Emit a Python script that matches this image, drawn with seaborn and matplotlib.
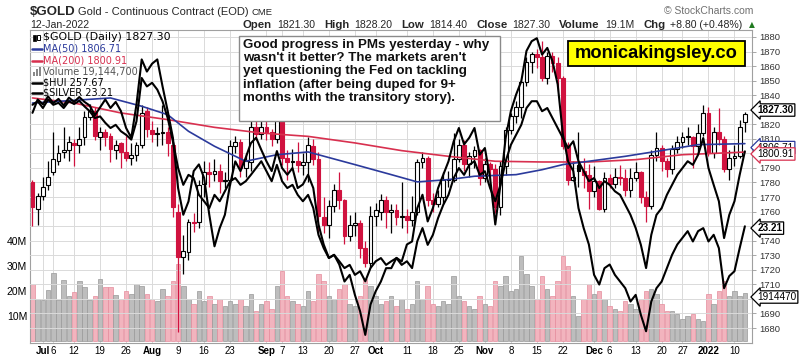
import numpy as np
import pandas as pd
import matplotlib
matplotlib.use("Agg")
import matplotlib.pyplot as plt
import seaborn as sns
from matplotlib.patches import Rectangle
from matplotlib.lines import Line2D

# ---- daily data: 29-Jun-2021 .. 12-Jan-2022 (138 sessions) ----
opens = [1780, 1762, 1771, 1778, 1787, 1795, 1801, 1802, 1807, 1806,
         1811, 1825, 1829, 1811, 1815, 1812, 1802, 1807, 1801, 1797,
         1799, 1806, 1829, 1816, 1813, 1814, 1815, 1806, 1760, 1729,
         1732, 1752, 1753, 1779, 1787, 1786, 1788, 1781, 1782, 1805,
         1808, 1790, 1794, 1818, 1813, 1818, 1815, 1810, 1832, 1797,
         1794, 1795, 1792, 1794, 1805, 1796, 1756, 1751, 1764, 1775,
         1768, 1743, 1751, 1752, 1735, 1725, 1757, 1760, 1768, 1760,
         1761, 1756, 1757, 1754, 1760, 1794, 1797, 1768, 1765, 1770,
         1782, 1782, 1796, 1806, 1793, 1798, 1802, 1783, 1793, 1789,
         1763, 1791, 1816, 1826, 1832, 1849, 1863, 1868, 1866, 1852,
         1867, 1862, 1852, 1805, 1782, 1792, 1788, 1785, 1774, 1781,
         1762, 1783, 1779, 1784, 1783, 1775, 1783, 1787, 1770, 1764,
         1799, 1804, 1795, 1789, 1803, 1808, 1812, 1811, 1805, 1814,
         1828, 1800, 1815, 1810, 1789, 1797, 1798, 1821.3]
highs = [1782, 1773, 1784, 1795, 1815, 1806, 1818, 1812, 1810, 1818,
         1829, 1834, 1832, 1818, 1817, 1814, 1809, 1808, 1812, 1807,
         1808, 1833, 1832, 1822, 1818, 1833, 1818, 1808, 1765, 1744,
         1755, 1759, 1782, 1795, 1794, 1796, 1793, 1787, 1809, 1812,
         1810, 1800, 1823, 1825, 1823, 1827, 1817, 1837, 1834, 1802,
         1803, 1808, 1800, 1811, 1810, 1801, 1770, 1768, 1779, 1787,
         1769, 1758, 1760, 1754, 1740, 1764, 1766, 1772, 1771, 1765,
         1765, 1780, 1762, 1771, 1796, 1801, 1798, 1773, 1775, 1787,
         1788, 1814, 1810, 1809, 1801, 1805, 1803, 1797, 1794, 1793,
         1795, 1818, 1828, 1836, 1850, 1866, 1870, 1872, 1877, 1870,
         1870, 1866, 1853, 1808, 1795, 1815, 1797, 1793, 1791, 1782,
         1787, 1786, 1790, 1792, 1789, 1790, 1794, 1788, 1774, 1802,
         1815, 1806, 1797, 1806, 1812, 1815, 1818, 1812, 1820, 1833,
         1832, 1818, 1831, 1812, 1802, 1806, 1823, 1828.2]
lows = [1750, 1751, 1768, 1775, 1785, 1792, 1797, 1795, 1791, 1800,
        1806, 1823, 1809, 1802, 1805, 1794, 1796, 1790, 1795, 1792,
        1795, 1804, 1811, 1808, 1805, 1806, 1798, 1756, 1677, 1717,
        1727, 1746, 1749, 1770, 1777, 1781, 1773, 1776, 1778, 1800,
        1784, 1784, 1788, 1809, 1810, 1809, 1805, 1807, 1792, 1782,
        1790, 1787, 1785, 1780, 1792, 1745, 1745, 1742, 1760, 1762,
        1738, 1740, 1743, 1728, 1722, 1721, 1750, 1754, 1749, 1745,
        1751, 1749, 1745, 1750, 1758, 1790, 1764, 1760, 1763, 1765,
        1777, 1780, 1794, 1788, 1784, 1790, 1778, 1780, 1782, 1759,
        1758, 1785, 1813, 1821, 1824, 1846, 1855, 1859, 1850, 1848,
        1856, 1843, 1803, 1778, 1781, 1777, 1776, 1762, 1770, 1761,
        1760, 1776, 1776, 1778, 1771, 1770, 1781, 1766, 1753, 1762,
        1795, 1788, 1784, 1786, 1800, 1804, 1806, 1790, 1800, 1812,
        1798, 1797, 1806, 1787, 1782, 1791, 1797, 1814.4]
closes = [1763, 1771, 1777, 1784, 1796, 1800, 1802, 1808, 1806, 1810,
          1825, 1829, 1812, 1815, 1811, 1803, 1806, 1801, 1797, 1799,
          1806, 1828, 1817, 1813, 1814, 1815, 1807, 1763, 1729, 1733,
          1753, 1752, 1778, 1787, 1786, 1788, 1781, 1781, 1805, 1808,
          1790, 1795, 1818, 1813, 1818, 1815, 1810, 1834, 1797, 1794,
          1795, 1792, 1794, 1806, 1796, 1757, 1751, 1764, 1775, 1768,
          1743, 1751, 1752, 1735, 1725, 1757, 1761, 1768, 1760, 1761,
          1756, 1757, 1754, 1760, 1794, 1797, 1768, 1765, 1770, 1782,
          1782, 1796, 1806, 1793, 1798, 1802, 1783, 1793, 1789, 1763,
          1791, 1816, 1826, 1832, 1849, 1863, 1868, 1866, 1852, 1867,
          1862, 1852, 1805, 1782, 1784, 1788, 1785, 1774, 1781, 1762,
          1783, 1779, 1784, 1783, 1775, 1783, 1787, 1770, 1764, 1799,
          1804, 1795, 1789, 1803, 1808, 1811, 1811.5, 1805, 1814, 1828,
          1800, 1815, 1810, 1789, 1797, 1798, 1818, 1827.3]
volume_m = [23, 17, 16.5, 20.4, 27.3, 16.5, 24.4, 18, 19.7, 24,
            21.7, 16.5, 18, 24.7, 21.5, 21.5, 18.5, 17, 20, 19,
            23, 22, 19, 17, 16, 21, 18, 24, 31, 22,
            17, 15, 20, 16, 18, 15, 17, 14, 16, 15,
            17, 14, 19, 12, 15, 16, 13, 22, 28, 18,
            16, 15, 14, 20, 16, 27, 24, 18, 17, 21,
            23, 15, 14, 18, 25, 22, 18, 15, 16, 18,
            14, 17, 13, 15, 24, 17, 22, 15, 14, 16,
            15, 26, 18, 16, 14, 13, 18, 15, 14, 24,
            22, 26, 20, 21, 34, 27, 22, 17, 26, 21,
            18, 24, 34, 30, 18, 10, 17, 23, 19, 20,
            17, 14, 13, 12, 16, 15, 13, 17, 20, 21,
            19, 15, 12, 12, 11, 9, 10, 11, 9, 8,
            19, 15, 20, 24, 18, 20, 18, 19.1447]
hui = [269.3, 270.2, 268.5, 270.6, 269.3, 269.8, 268.5, 270.2, 269.5, 270.3,
       268.9, 267.7, 266.0, 266.4, 264.8, 263.5, 264.3, 262.7, 261.8, 260.6,
       265.2, 276.0, 273.9, 274.8, 273.1, 270.2, 266.0, 260.2, 253.5, 249.3,
       251.8, 251.0, 246.8, 245.2, 243.5, 246.8, 245.2, 247.7, 250.2, 251.0,
       249.3, 250.2, 251.8, 253.5, 255.2, 252.7, 250.2, 254.3, 250.2, 248.5,
       249.3, 246.8, 245.2, 246.8, 243.5, 236.8, 233.5, 231.0, 231.8, 230.2,
       228.5, 229.3, 226.8, 227.7, 225.2, 228.5, 230.2, 231.0, 229.3, 230.2,
       231.0, 229.3, 230.2, 228.5, 235.2, 238.5, 234.3, 236.8, 241.0, 244.3,
       246.8, 251.0, 253.5, 251.8, 254.3, 255.2, 251.8, 252.7, 248.5, 245.2,
       249.3, 255.2, 259.3, 261.8, 264.3, 268.5, 270.2, 270.2, 267.7, 268.5,
       266.0, 263.5, 261.0, 258.5, 260.2, 255.2, 252.7, 250.2, 251.0, 248.5,
       250.2, 249.3, 247.7, 246.8, 244.3, 241.8, 238.5, 234.3, 228.5, 236.8,
       241.8, 243.5, 246.8, 249.3, 251.8, 253.5, 255.2, 254.3, 256.8, 261.0,
       253.5, 249.3, 245.2, 236.0, 241.8, 245.2, 251.8, 257.67]
silver = [25.08, 25.30, 25.22, 25.35, 25.24, 25.31, 25.20, 25.33, 25.26, 25.34,
          25.26, 25.20, 25.04, 25.17, 25.30, 25.16, 25.26, 25.11, 24.83, 24.67,
          25.22, 25.96, 25.76, 25.89, 25.96, 25.52, 25.11, 24.67, 23.84, 23.40,
          23.62, 24.12, 24.23, 24.01, 23.40, 22.88, 23.18, 23.40, 23.90, 24.28,
          24.12, 24.34, 24.58, 24.67, 24.47, 24.28, 24.12, 24.45, 24.17, 24.06,
          24.17, 23.84, 23.90, 24.06, 23.84, 23.24, 22.91, 22.69, 22.74, 22.58,
          22.30, 22.41, 22.08, 21.81, 21.42, 21.92, 22.14, 22.30, 22.52, 22.52,
          22.69, 22.63, 22.91, 22.96, 23.51, 23.73, 23.29, 23.51, 23.84, 24.06,
          24.28, 24.61, 24.83, 24.56, 24.67, 24.83, 24.39, 24.50, 24.01, 23.24,
          23.90, 24.67, 25.11, 25.38, 25.60, 26.10, 26.26, 26.31, 26.04, 26.15,
          25.93, 25.55, 24.72, 24.28, 24.12, 23.51, 23.18, 22.91, 22.41, 22.25,
          22.52, 22.58, 22.41, 22.30, 22.19, 21.97, 22.08, 21.75, 21.48, 21.97,
          22.19, 22.30, 22.52, 22.74, 22.91, 23.02, 23.13, 22.96, 23.13, 23.18,
          22.96, 23.07, 22.85, 22.19, 22.39, 22.47, 22.85, 23.21]

ma50_days = [0, 15, 21, 26, 30, 35, 41, 47, 53, 62, 69, 74, 80, 85, 93, 98, 102, 107, 114, 120, 128, 137]
ma50_vals = [1834.6, 1838.1, 1832.4, 1826.6, 1815.2, 1804.9, 1794.6, 1799.1, 1801.0, 1792.3, 1785.4,
             1780.4, 1782.0, 1784.3, 1785.4, 1788.8, 1792.3, 1794.6, 1798.0, 1801.4, 1806.0, 1806.71]
ma200_days = [0, 8, 17, 26, 35, 44, 53, 62, 71, 80, 89, 98, 107, 116, 125, 137]
ma200_vals = [1838.1, 1834.6, 1827.8, 1823.2, 1817.9, 1814.0, 1811.7, 1807.2, 1801.9, 1798.0,
              1794.6, 1794.1, 1794.1, 1795.7, 1799.1, 1800.91]

tick_days = [2, 4, 8, 13, 18, 23, 28, 33, 38, 45, 48, 52, 57, 62, 66, 72, 77, 82, 87, 92, 97, 102,
             108, 111, 116, 121, 125, 130, 135]
tick_labels = ["Jul", "6", "12", "19", "26", "Aug", "9", "16", "23", "Sep", "7", "13", "20", "27",
               "Oct", "11", "18", "25", "Nov", "8", "15", "22", "Dec", "6", "13", "20", "27", "2022", "10"]
month_labels = {"Jul", "Aug", "Sep", "Oct", "Nov", "Dec", "2022"}
price_ticks = list(range(1680, 1881, 10))
hidden_price_labels = {1800, 1750, 1700}   # sit under the value tags on the right

quote = [("Open", "1821.30"), ("High", "1828.20"), ("Low", "1814.40"), ("Close", "1827.30"),
         ("Volume", "19.1M"), ("Chg", "+8.80 (+0.48%)")]
note = ("Good progress in PMs yesterday - why\nwasn't it better? The markets aren't\n"
        "yet questioning the Fed on tackling\ninflation (after being duped for 9+\n"
        "months with the transitory story).")

# ---- styling ----
RED = "#d0123f"
MA50_C = "#2b3a9c"
MA200_C = "#d8304f"
PINK, PINK_E = "#f2b4be", "#e58c9c"
GRAY, GRAY_E = "#bdbdbd", "#999999"
PRICE_LIM = (1669.7, 1884.8)
VOL_LIM = (-0.8, 124.4)
HUI_AT, HUI_PER = (257.67, 1801.4), 2.75       # overlay scale: price units per HUI point
SILVER_AT, SILVER_PER = (23.21, 1749.9), 41.7  # price units per silver dollar

sns.set_theme(style="white")
plt.rcParams["font.family"] = ["Liberation Sans", "DejaVu Sans"]

W, H = 803, 360
fig = plt.figure(figsize=(W / 100, H / 100), dpi=100)
fig.patch.set_facecolor("white")


def fx(x):
    return x / W


def fy(y):
    return 1 - y / H


def ftext(x, y, s, **kw):
    return fig.text(fx(x), fy(y), s, **kw)


ax_v = fig.add_axes([fx(30), fy(343), fx(752) - fx(30), fy(30) - fy(343)])
ax = ax_v.twinx()
ax_h = ax_v.twinx()
ax_s = ax_v.twinx()

df = pd.DataFrame(dict(day=np.arange(len(closes)), o=opens, h=highs, l=lows, c=closes, vol=volume_m))
df["prev"] = df["c"].shift(1).fillna(df["o"])
down = df["c"] < df["prev"]
df["edge"] = np.where(down, RED, "black")
df["fill"] = np.where(df["c"] > df["o"], "white", df["edge"])

# volume
ax_v.bar(df["day"], df["vol"], width=0.85, color=np.where(down, PINK, GRAY),
         edgecolor=np.where(down, PINK_E, GRAY_E), linewidth=0.5, zorder=2)
ax_v.set_xlim(-0.48, 138.37)
ax_v.set_ylim(*VOL_LIM)
ax_v.set_yticks([10, 20, 30, 40])
ax_v.set_yticklabels(["10M", "20M", "30M", "40M"])
ax_v.set_xticks(tick_days)
ax_v.set_xticklabels(tick_labels)
for t in ax_v.get_xticklabels():
    if t.get_text() in month_labels:
        t.set_fontweight("bold")
        t.set_fontsize(7.6)
ax_v.tick_params(axis="x", length=0, pad=2.5, labelsize=7, labelcolor="black")
ax_v.tick_params(axis="y", length=0, pad=2, labelsize=7.5, labelcolor="black")
ax_v.grid(axis="x", color="#dadada", lw=0.7)
ax_v.set_axisbelow(True)
ax_v.set_facecolor("white")
for sp in ax_v.spines.values():
    sp.set_color("#a0a0a0")
    sp.set_linewidth(0.8)

# price candles
ax.set_ylim(*PRICE_LIM)
ax.set_yticks(price_ticks)
ax.set_yticklabels(["" if p in hidden_price_labels else str(p) for p in price_ticks])
ax.tick_params(axis="y", right=True, labelright=True, length=3, width=0.6, color="#999999",
               pad=2, labelsize=6.8, labelcolor="#333333")
ax.grid(axis="y", color="#dadada", lw=0.7)
ax.set_axisbelow(True)
for sp in ax.spines.values():
    sp.set_visible(False)
ax.vlines(df["day"], df["l"], df["h"], colors=df["edge"], lw=0.9, zorder=3)
body_lo = np.minimum(df["o"], df["c"])
body_h = np.maximum((df["c"] - df["o"]).abs(), 0.7)
ax.bar(df["day"], body_h, bottom=body_lo, width=0.72, color=df["fill"], edgecolor=df["edge"],
       linewidth=0.8, zorder=4)

sns.lineplot(x=ma200_days, y=ma200_vals, ax=ax, color=MA200_C, lw=1.2, zorder=5)
sns.lineplot(x=ma50_days, y=ma50_vals, ax=ax, color=MA50_C, lw=1.2, zorder=5)

# overlays on their own scales
ax_h.set_ylim([HUI_AT[0] + (p - HUI_AT[1]) / HUI_PER for p in PRICE_LIM])
ax_s.set_ylim([SILVER_AT[0] + (p - SILVER_AT[1]) / SILVER_PER for p in PRICE_LIM])
sns.lineplot(x=df["day"], y=hui, ax=ax_h, color="black", lw=1.5)
sns.lineplot(x=df["day"], y=silver, ax=ax_s, color="black", lw=1.5)
for a in (ax_h, ax_s):
    a.axis("off")


# value tags on the right edge
def tag(axis, y, text, ec, bold=False):
    axis.text(1.0075, y, text, transform=axis.get_yaxis_transform(), ha="left", va="center",
              fontsize=7.2, fontweight="bold" if bold else "normal", color="black", clip_on=False,
              zorder=20, bbox=dict(boxstyle="larrow,pad=0.12", fc="white", ec=ec, lw=0.9))


tag(ax, 1829.8, f"{closes[-1]:.2f}", "black", bold=True)
tag(ax, 1804.0, f"{ma50_vals[-1]:.2f}", MA50_C)
tag(ax, 1799.6, f"{ma200_vals[-1]:.2f}", MA200_C)
tag(ax_s, silver[-1] - 0.03, f"{silver[-1]:.2f}", "black", bold=True)
tag(ax, 1701.3, f"{volume_m[-1] * 1e5:.0f}", "black")

# legend in the top-left corner
leg = [
    (f"$GOLD (Daily) {closes[-1]:.2f}", "black", 37.5, 7.9),
    (f"MA(50) {ma50_vals[-1]:.2f}", MA50_C, 48.5, 7.0),
    (f"MA(200) {ma200_vals[-1]:.2f}", MA200_C, 60.5, 7.0),
    (f"Volume {volume_m[-1] * 1e6:,.0f}", "#555555", 71.5, 7.0),
    (f"$HUI {hui[-1]:.2f}", "black", 82.5, 7.0),
    (f"$SILVER {silver[-1]:.2f}", "black", 92.5, 7.0),
]
for i, (s, col, y, fs) in enumerate(leg):
    ftext(43, y, s, color=col, fontsize=fs, va="center", family="DejaVu Sans", zorder=30)
    if i == 0:
        fig.add_artist(Rectangle((fx(33), fy(41)), fx(3), 6 / H, fc="black", ec="black", lw=0.5, zorder=30))
        fig.add_artist(Rectangle((fx(37.5), fy(40)), fx(3), 5 / H, fc="white", ec="black", lw=0.7, zorder=30))
    elif i == 3:
        for k, hh in enumerate([4, 6, 8]):
            fig.add_artist(Rectangle((fx(33 + k * 3), fy(75.5)), fx(2.2), hh / H, fc="#888888",
                                     ec="none", zorder=30))
    else:
        fig.add_artist(Line2D([fx(32), fx(42)], [fy(y), fy(y)], color=col, lw=1.8, zorder=30))

# annotation and website badge
fig.add_artist(Rectangle((fx(239), fy(121)), fx(500) - fx(239), fy(36) - fy(121), fc="white",
                         ec="#8a8a8a", lw=1.0, zorder=25))
ftext(243, 39, note, fontsize=9.6, fontweight="bold", color="#111111", va="top", ha="left",
      linespacing=1.13, zorder=26)
fig.add_artist(Rectangle((fx(568), fy(66)), fx(745) - fx(568), fy(41) - fy(66), fc="#ffff00",
                         ec="black", lw=1.3, zorder=25))
ftext(656, 54, "monicakingsley.co", fontsize=13.2, fontweight="bold", color="black",
      ha="center", va="center", zorder=26)

# header
ftext(30, 15, "$GOLD", fontsize=9.5, fontweight="bold", va="baseline")
ftext(78, 15, "Gold - Continuous Contract (EOD)", fontsize=8, va="baseline")
ftext(252, 15, "CME", fontsize=6.8, va="baseline")
ftext(30, 28, "12-Jan-2022", fontsize=7.6, va="baseline")
ftext(753, 14, "\u00a9 StockCharts.com", fontsize=7.5, color="#707070", ha="right", va="baseline")

renderer = fig.canvas.get_renderer()
x = 243
for label, value in quote:
    t = ftext(x, 28, label, fontsize=8.2, fontweight="bold", va="baseline")
    x += t.get_window_extent(renderer).width + 5
    t = ftext(x, 28, value, fontsize=7.6, va="baseline")
    x += t.get_window_extent(renderer).width + 9
ftext(x - 3, 27, "\u25b2", fontsize=5.5, color="#1f7a1f", va="baseline", family="DejaVu Sans")

fig.savefig("out.png", dpi=100)
